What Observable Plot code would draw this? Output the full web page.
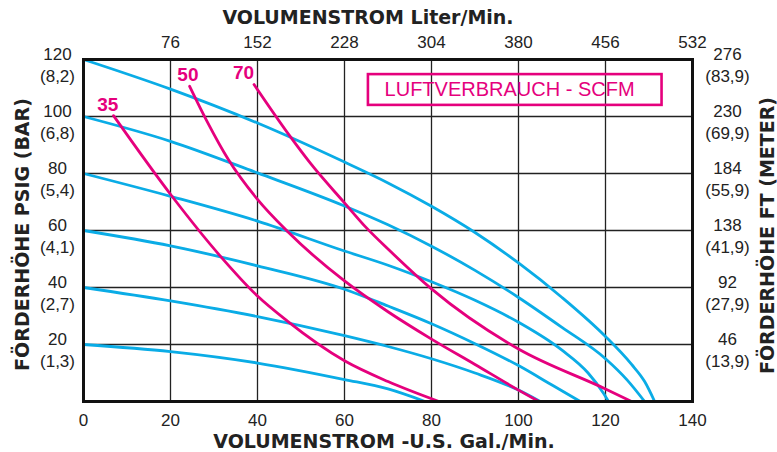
<!DOCTYPE html>
<html>
<head>
<meta charset="utf-8">
<script src="https://cdn.jsdelivr.net/npm/d3@7"></script>
<script src="https://cdn.jsdelivr.net/npm/@observablehq/plot@0.6"></script>
<style>
  html, body { margin: 0; padding: 0; background: #fff; }
  svg { display: block; }
</style>
</head>
<body>
<div id="chart"></div>
<script>
// ---- Data ----
// Blue head curves by air inlet pressure (flow U.S. gal/min, head psig)
const flow120 = [0, 20, 40, 60, 70, 80, 90, 100, 110, 120, 126, 129, 131.3];
const head120 = [120, 109.6, 97.7, 84, 76.7, 68.5, 59.3, 48.6, 36.5, 22.8, 13, 7, 0];
const flow100 = [0, 20, 40, 60, 70, 80, 90, 100, 110, 120, 125, 129];
const head100 = [100, 91.3, 80.2, 68.6, 62, 54.5, 46, 36.5, 26, 15, 7.5, 0];
const flow80 = [0, 20, 40, 60, 70, 80, 90, 100, 110, 116, 119.5, 120.7];
const head80 = [80, 72, 63.3, 52.8, 47.8, 42, 35.5, 27.8, 18, 10, 3, 0];
const flow60 = [0, 20, 40, 60, 70, 80, 90, 100, 108, 114.2];
const head60 = [60, 54.6, 47.6, 39.4, 33.5, 27.3, 20.3, 12.6, 5.5, 0];
const flow40 = [0, 20, 40, 60, 70, 80, 90, 100, 105];
const head40 = [40, 35.3, 29.8, 23.1, 19.3, 15, 10, 4, 0];
const flow20 = [0, 20, 40, 60, 70, 78.5];
const head20 = [20, 17.5, 13.5, 7.7, 4.4, 0];

// Magenta air consumption curves (SCFM)
const flowAir35 = [6.9, 20.3, 31.4, 40, 46.8, 60, 70, 81.7];
const headAir35 = [100.3, 72.1, 51.1, 37, 28.3, 14.3, 7, 0];
const flowAir50 = [24.4, 28.4, 33.3, 40, 46.8, 60, 70, 80, 90, 100, 104.7];
const headAir50 = [110.6, 98.3, 84.9, 70.9, 59.8, 42.3, 31.5, 21.9, 13, 4, 0];
const flowAir70 = [39.2, 47.5, 52.1, 60, 65, 70, 80, 100, 120, 126];
const headAir70 = [111.2, 93, 83.7, 69.7, 61, 53.5, 39.5, 18.4, 4.4, 0];

const airLabels = ["35", "50", "70"];
const airLabelFlow = [5.6, 24, 36.8];
const airLabelHead = [104, 114.7, 115.2];

// Axis ticks and labels
const flowTicks = [0, 20, 40, 60, 80, 100, 120, 140];
const literTicks = [20, 40, 60, 80, 100, 120, 140];
const literLabels = ["76", "152", "228", "304", "380", "456", "532"];
const headTicks = [20, 40, 60, 80, 100, 120];
const psiLabels = ["20", "40", "60", "80", "100", "120"];
const barLabels = ["(1,3)", "(2,7)", "(4,1)", "(5,4)", "(6,8)", "(8,2)"];
const ftLabels = ["46", "92", "138", "184", "230", "276"];
const meterLabels = ["(13,9)", "(27,9)", "(41,9)", "(55,9)", "(69,9)", "(83,9)"];
const gridFlow = [20, 40, 60, 80, 100, 120];
const gridHead = [20, 40, 60, 80, 100];

const legendText = "LUFTVERBRAUCH - SCFM";
const legendBox = {x1: 65.5, x2: 133, y1: 103.9, y2: 114.7};

// ---- Build tidy rows ----
const blueSets = [[flow120, head120, "120"], [flow100, head100, "100"], [flow80, head80, "80"],
                  [flow60, head60, "60"], [flow40, head40, "40"], [flow20, head20, "20"]];
const airSets = [[flowAir35, headAir35, "35"], [flowAir50, headAir50, "50"], [flowAir70, headAir70, "70"]];
const toRows = sets => sets.flatMap(([f, h, name]) => f.map((v, i) => ({flow: v, head: h[i], name})));
const blueRows = toRows(blueSets);
const airRows = toRows(airSets);

const BLUE = "#0AACE6";
const MAGENTA = "#E5007D";
const TICKFONT = "Liberation Sans, Arial, sans-serif";
const TITLEFONT = "DejaVu Sans, sans-serif";

const chart = Plot.plot({
  width: 777,
  height: 452,
  marginLeft: 83,
  marginRight: 85,
  marginTop: 59,
  marginBottom: 51,
  x: {domain: [0, 140], axis: null},
  y: {domain: [0, 120], axis: null},
  style: {fontFamily: TICKFONT, fontSize: "17px", color: "#222", background: "#fff"},
  marks: [
    Plot.gridX(gridFlow, {stroke: "#222", strokeOpacity: 1, strokeWidth: 1.3}),
    Plot.gridY(gridHead, {stroke: "#222", strokeOpacity: 1, strokeWidth: 1.3}),
    Plot.line(blueRows, {x: "flow", y: "head", z: "name", stroke: BLUE, strokeWidth: 2.8, curve: "monotone-x"}),
    Plot.line(airRows, {x: "flow", y: "head", z: "name", stroke: MAGENTA, strokeWidth: 2.8, curve: "monotone-x"}),
    Plot.text(airLabels, {x: (d, i) => airLabelFlow[i], y: (d, i) => airLabelHead[i], text: d => d,
      fill: MAGENTA, fontWeight: "bold", fontSize: 19, fontFamily: TICKFONT}),
    Plot.rect([legendBox], {x1: "x1", x2: "x2", y1: "y1", y2: "y2", fill: "none", stroke: MAGENTA, strokeWidth: 2.6}),
    Plot.text([legendText], {x: (legendBox.x1 + legendBox.x2) / 2 - 1.3, y: (legendBox.y1 + legendBox.y2) / 2,
      text: d => d, fill: MAGENTA, fontSize: 20, fontFamily: TICKFONT}),
    Plot.frame({stroke: "#111", strokeWidth: 3}),
    // bottom tick labels
    Plot.text(flowTicks, {x: d => d, frameAnchor: "bottom", lineAnchor: "middle", dy: 19, text: d => String(d), fill: "#222"}),
    // top tick labels (liters/min)
    Plot.text(literTicks, {x: d => d, frameAnchor: "top", lineAnchor: "middle", dy: -17, text: (d, i) => literLabels[i], fill: "#222"}),
    // left tick labels
    Plot.text(headTicks, {y: d => d, frameAnchor: "left", dx: -26, dy: 4, textAnchor: "middle", lineAnchor: "middle", lineHeight: 1.3,
      text: (d, i) => psiLabels[i] + "\n" + barLabels[i], fill: "#222"}),
    // right tick labels
    Plot.text(headTicks, {y: d => d, frameAnchor: "right", dx: 35, dy: 4, textAnchor: "middle", lineAnchor: "middle", lineHeight: 1.3,
      text: (d, i) => ftLabels[i] + "\n" + meterLabels[i], fill: "#222"}),
    // titles
    Plot.text(["VOLUMENSTROM Liter/Min."], {frameAnchor: "top", lineAnchor: "middle", dx: -20, dy: -42, text: d => d,
      fontWeight: "bold", fontSize: 19, fontFamily: TITLEFONT, fill: "#222"}),
    Plot.text(["VOLUMENSTROM -U.S. Gal./Min."], {frameAnchor: "bottom", lineAnchor: "middle", dx: -4, dy: 40.5, text: d => d,
      fontWeight: "bold", fontSize: 19, fontFamily: TITLEFONT, fill: "#222"}),
    Plot.text(["FÖRDERHÖHE PSIG (BAR)"], {frameAnchor: "left", textAnchor: "middle", lineAnchor: "middle", dx: -61, dy: 4, rotate: -90, text: d => d,
      fontWeight: "bold", fontSize: 19, fontFamily: TITLEFONT, fill: "#222"}),
    Plot.text(["FÖRDERHÖHE FT (METER)"], {frameAnchor: "right", textAnchor: "middle", lineAnchor: "middle", dx: 75, dy: 5, rotate: -90, text: d => d,
      fontWeight: "bold", fontSize: 19, fontFamily: TITLEFONT, fill: "#222"})
  ]
});
document.getElementById("chart").appendChild(chart);
</script>
</body>
</html>
